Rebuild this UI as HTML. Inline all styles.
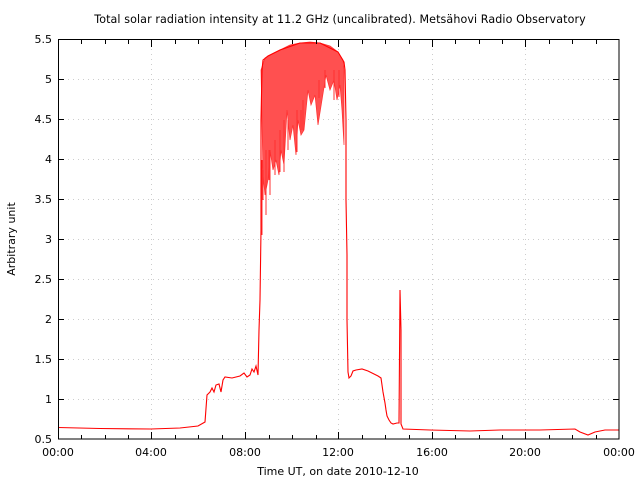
<!DOCTYPE html>
<html><head><style>
body{margin:0;background:#fff;}
svg text{font-family:"DejaVu Sans","Liberation Sans",sans-serif;font-size:11px;fill:#000;}
</style></head><body>
<svg width="640" height="480" xmlns="http://www.w3.org/2000/svg">
<rect width="640" height="480" fill="#fff"/>
<text x="340" y="23" text-anchor="middle" font-size="11.1" style="font-size:11.1px;letter-spacing:0.1px">Total solar radiation intensity at 11.2 GHz (uncalibrated). Metsähovi Radio Observatory</text>
<g stroke="#ccc" stroke-dasharray="1,4" stroke-width="1">
<line x1="58" x2="619" y1="399.5" y2="399.5"/><line x1="58" x2="619" y1="359.5" y2="359.5"/>
<line x1="58" x2="619" y1="319.5" y2="319.5"/><line x1="58" x2="619" y1="279.5" y2="279.5"/>
<line x1="58" x2="619" y1="239.5" y2="239.5"/><line x1="58" x2="619" y1="199.5" y2="199.5"/>
<line x1="58" x2="619" y1="159.5" y2="159.5"/><line x1="58" x2="619" y1="119.5" y2="119.5"/>
<line x1="58" x2="619" y1="79.5" y2="79.5"/>
<line y1="39" y2="439" x1="151.5" x2="151.5"/><line y1="39" y2="439" x1="245.5" x2="245.5"/>
<line y1="39" y2="439" x1="338.5" x2="338.5"/><line y1="39" y2="439" x1="432.5" x2="432.5"/>
<line y1="39" y2="439" x1="525.5" x2="525.5"/>
</g>
<polygon fill="#ff5050" stroke="#ff3030" stroke-width="0.7" points="261,70 265,58 270,55 280,50 290,45 300,43 310,42 320,43 330,46 338,52 343,60 344,70 344,145 342,110 340,85 337,100 334,80 330,90 326,75 322,100 318,125 315,95 311,105 308,90 304,130 301,135 298,120 296,155 293,125 290,140 287,110 284,165 281,150 279,175 276,160 273,170 270,150 268,180 265,195 263,175"/>
<g stroke="#ff3030" stroke-width="1" fill="none">
<line x1="262" y1="160" x2="262" y2="235"/><line x1="263" y1="170" x2="263" y2="200"/>
<line x1="266" y1="150" x2="266" y2="215"/><line x1="269" y1="150" x2="269" y2="180"/>
<line x1="270" y1="150" x2="270" y2="195"/><line x1="275" y1="140" x2="275" y2="175"/>
<line x1="280" y1="130" x2="280" y2="172"/><line x1="284" y1="120" x2="284" y2="172"/>
<line x1="288" y1="120" x2="288" y2="150"/><line x1="297" y1="110" x2="297" y2="152"/>
<line x1="301" y1="110" x2="301" y2="130"/><line x1="303" y1="100" x2="303" y2="130"/>
<line x1="319" y1="80" x2="319" y2="98"/><line x1="325" y1="70" x2="325" y2="88"/>
<line x1="334" y1="70" x2="334" y2="100"/><line x1="339" y1="70" x2="339" y2="97"/>
</g>
<g fill="none" stroke="#ff0000" stroke-width="1.1">
<polyline points="58,427.5 100,428.5 151,429 180,428 198,426 205,422 207,395 210,392 212,388 214,392 216,385 219,384 221,392 223,380 225,377 232,378 240,376 244,373 247,377 250,375 252,369 254,372 256,366 258,375 259,330 260,300 261,230 261,120 262,70 263,60 268,56 280,50 300,43 320,43 338,52 344,62 345,70 346,120 346,200 347,255 347,320 348,372 349,378 351,376 353,371 356,370 362,369 368,371 372,373 378,376 381,378 383,392 385,403 386,410 387,416 389,420 391,423 393,424 397,423 399,423 400,290 401,330 401,424 403,429 430,430 470,431 500,430 540,430 575,429 580,432 588,435 595,432 605,430 619,430"/>
</g>
<rect x="58.5" y="39.5" width="560.5" height="399.5" fill="none" stroke="#000" stroke-width="1"/>
<g stroke="#000" stroke-width="1">
<path d="M81.5,439v-4M105.5,439v-4M128.5,439v-4M175.5,439v-4M198.5,439v-4M222.5,439v-4M269.5,439v-4M292.5,439v-4M316.5,439v-4M362.5,439v-4M385.5,439v-4M409.5,439v-4M455.5,439v-4M479.5,439v-4M502.5,439v-4M549.5,439v-4M572.5,439v-4M596.5,439v-4"/>
<path d="M151.5,439v-7M245.5,439v-7M338.5,439v-7M432.5,439v-7M525.5,439v-7"/>
<path d="M81.5,40v4M105.5,40v4M128.5,40v4M175.5,40v4M198.5,40v4M222.5,40v4M269.5,40v4M292.5,40v4M316.5,40v4M362.5,40v4M385.5,40v4M409.5,40v4M455.5,40v4M479.5,40v4M502.5,40v4M549.5,40v4M572.5,40v4M596.5,40v4"/>
<path d="M151.5,40v7M245.5,40v7M338.5,40v7M432.5,40v7M525.5,40v7"/>
<path d="M58,399.5h6M58,359.5h6M58,319.5h6M58,279.5h6M58,239.5h6M58,199.5h6M58,159.5h6M58,119.5h6M58,79.5h6"/>
<path d="M619,399.5h-6M619,359.5h-6M619,319.5h-6M619,279.5h-6M619,239.5h-6M619,199.5h-6M619,159.5h-6M619,119.5h-6M619,79.5h-6"/>
</g>
<g text-anchor="end">
<text x="52" y="443">0.5</text><text x="52" y="403">1</text><text x="52" y="363">1.5</text>
<text x="52" y="323">2</text><text x="52" y="283">2.5</text><text x="52" y="243">3</text>
<text x="52" y="203">3.5</text><text x="52" y="163">4</text><text x="52" y="123">4.5</text>
<text x="52" y="83">5</text><text x="52" y="43">5.5</text>
</g>
<g text-anchor="middle">
<text x="58" y="456">00:00</text><text x="151" y="456">04:00</text><text x="245" y="456">08:00</text>
<text x="338" y="456">12:00</text><text x="432" y="456">16:00</text><text x="525" y="456">20:00</text>
<text x="619" y="456">00:00</text>
<text x="338" y="475">Time UT, on date 2010-12-10</text>
</g>
<text transform="translate(15,239) rotate(-90)" text-anchor="middle">Arbitrary unit</text>
</svg>
</body></html>
